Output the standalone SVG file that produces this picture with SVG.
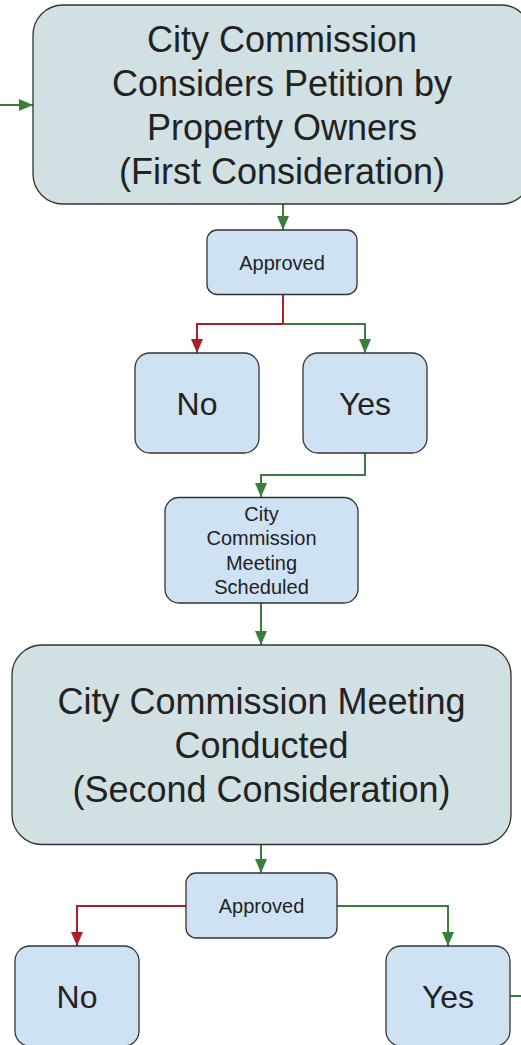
<svg xmlns="http://www.w3.org/2000/svg" width="521" height="1045" viewBox="0 0 521 1045">
<style>
.big{fill:#d0e0e3;stroke:#333;stroke-width:1.3}
.sm{fill:#cfe2f3;stroke:#333;stroke-width:1.3}
text{font-family:"Liberation Sans",Arial,sans-serif;fill:#222;text-anchor:middle}
.t36{font-size:36px}
.t32{font-size:32px}
.t20{font-size:20px}
.g{fill:none;stroke:#3b7d3b;stroke-width:2}
.r{fill:none;stroke:#a82024;stroke-width:2}
</style>
<defs>
<marker id="ag" markerWidth="15" markerHeight="14" refX="14" refY="7" orient="auto" markerUnits="userSpaceOnUse"><path d="M0,1 L14,7 L0,13 Z" fill="#3b7d3b"/></marker>
<marker id="ar" markerWidth="15" markerHeight="14" refX="14" refY="7" orient="auto" markerUnits="userSpaceOnUse"><path d="M0,1 L14,7 L0,13 Z" fill="#a82024"/></marker>
</defs>
<g id="connectors">
<path class="g" d="M0,105 H33" marker-end="url(#ag)"/>
<path class="g" d="M283,204 V230" marker-end="url(#ag)"/>
<path class="r" d="M283,294 V324 H197 V353" marker-end="url(#ar)"/>
<path class="g" d="M283,324 H365 V353" marker-end="url(#ag)"/>
<path class="g" d="M365,453 V475 H261 V497" marker-end="url(#ag)"/>
<path class="g" d="M261,603 V645" marker-end="url(#ag)"/>
<path class="g" d="M261,845 V873" marker-end="url(#ag)"/>
<path class="r" d="M186,906 H77 V946" marker-end="url(#ar)"/>
<path class="g" d="M337,906 H448 V946" marker-end="url(#ag)"/>
<path class="g" d="M510,996 H521"/>
</g>
<g id="n1">
<rect class="big" x="33" y="5" width="498" height="199" rx="30"/>
<text class="t36" x="282" y="51.5">City Commission</text>
<text class="t36" x="282" y="95.5">Considers Petition by</text>
<text class="t36" x="282" y="139.5">Property Owners</text>
<text class="t36" x="282" y="183.5">(First Consideration)</text>
</g>
<g id="n2">
<rect class="sm" x="207" y="230" width="150" height="64.5" rx="10"/>
<text class="t20" x="282" y="269.5">Approved</text>
</g>
<g id="n3">
<rect class="sm" x="135" y="353" width="124" height="100" rx="15"/>
<text class="t32" x="197" y="415">No</text>
</g>
<g id="n4">
<rect class="sm" x="303" y="353" width="124" height="100" rx="15"/>
<text class="t32" x="365" y="415">Yes</text>
</g>
<g id="n5">
<rect class="sm" x="165" y="497.5" width="193" height="105.5" rx="14"/>
<text class="t20" x="261.5" y="521">City</text>
<text class="t20" x="261.5" y="545.2">Commission</text>
<text class="t20" x="261.5" y="569.5">Meeting</text>
<text class="t20" x="261.5" y="593.8">Scheduled</text>
</g>
<g id="n6">
<rect class="big" x="12" y="645" width="499" height="199.5" rx="30"/>
<text class="t36" x="261.5" y="713.5">City Commission Meeting</text>
<text class="t36" x="261.5" y="757.5">Conducted</text>
<text class="t36" x="261.5" y="801.5">(Second Consideration)</text>
</g>
<g id="n7">
<rect class="sm" x="186" y="873" width="151" height="65" rx="10"/>
<text class="t20" x="261.5" y="913">Approved</text>
</g>
<g id="n8">
<rect class="sm" x="15" y="946" width="124" height="100" rx="15"/>
<text class="t32" x="77" y="1008">No</text>
</g>
<g id="n9">
<rect class="sm" x="386" y="946" width="124" height="100" rx="15"/>
<text class="t32" x="448" y="1008">Yes</text>
</g>
</svg>
